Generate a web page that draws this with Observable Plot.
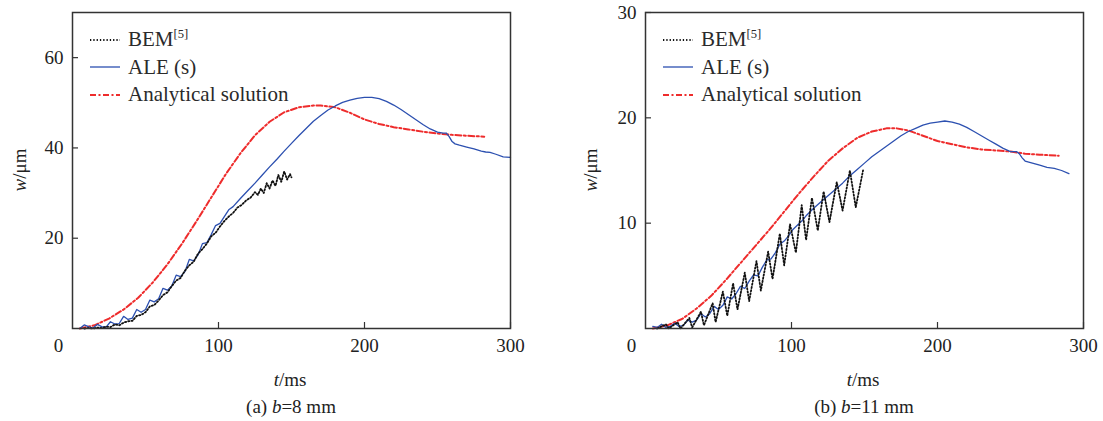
<!DOCTYPE html>
<html>
<head>
<meta charset="utf-8">
<script src="https://cdn.jsdelivr.net/npm/d3@7"></script>
<script src="https://cdn.jsdelivr.net/npm/@observablehq/plot@0.6"></script>
<style>
  body { margin: 0; background: #fff; font-family: "Liberation Serif", "Times New Roman", serif; color: #222; }
  #wrap { position: relative; width: 1103px; height: 421px; overflow: hidden; }
  .panel { position: absolute; top: 0; }
  .lbl { position: absolute; font-size: 19px; white-space: nowrap; transform: translate(-50%, -50%); }
  .ylbl { position: absolute; font-size: 19px; white-space: nowrap; transform: translate(-50%, -50%) rotate(-90deg); }
  .legend { position: absolute; font-size: 21px; line-height: 1; color: #2a2a2a; }
  .legend .row { display: flex; align-items: center; height: 27.5px; white-space: nowrap; }
  .legend svg { margin-right: 8px; }
  sup { font-size: 0.6em; vertical-align: 0.6em; line-height: 0; }
</style>
</head>
<body>
<div id="wrap"></div>
<script>
// ---- tick labels ----
const xTicks = [100, 200, 300];
const yTicks8 = [20, 40, 60];
const yTicks11 = [10, 20, 30];

// ---- b = 8 mm ----
const bem8T = [8, 11, 14, 17, 20, 23, 26, 29, 32, 35, 38, 41, 44, 47, 50, 53, 56, 59, 62, 65, 68, 71, 74, 77, 80, 83, 86, 89, 92, 95, 98, 101, 104, 107, 110, 113, 116, 119, 122, 125, 127, 129, 131, 133, 135, 137, 139, 141, 143, 145, 147, 149, 150];
const bem8W = [0, 0.1, 0.0, 0.2, 0.1, 0.4, 0.3, 0.9, 0.7, 1.3, 1.6, 1.7, 2.8, 3.0, 3.6, 4.9, 5.2, 6.2, 7.4, 8.0, 9.4, 10.6, 11.2, 12.8, 14.0, 14.8, 16.6, 17.6, 18.8, 20.4, 21.2, 22.6, 23.8, 24.8, 25.6, 26.8, 27.4, 28.4, 29.0, 30.2, 29.6, 31.0, 30.0, 32.2, 31.0, 32.8, 31.6, 34.0, 32.5, 34.8, 33.0, 34.2, 33.5];

const ale8T = [5, 8, 11, 14, 17, 20, 23, 26, 29, 32, 35, 38, 41, 44, 47, 50, 53, 56, 59, 62, 65, 68, 71, 74, 77, 80, 83, 86, 89, 92, 95, 98, 101, 104, 107, 110, 115, 120, 125, 130, 135, 140, 145, 150, 155, 160, 165, 170, 175, 180, 185, 190, 195, 200, 205, 210, 215, 220, 225, 230, 235, 240, 245, 250, 254, 256, 258, 260, 262, 265, 270, 275, 280, 283, 286, 290, 295, 300];
const ale8W = [0.0, 0.8, 0.4, 0.1, 0.9, 0.4, 0.3, 1.5, 1.0, 1.1, 2.7, 2.0, 2.3, 4.2, 3.6, 4.2, 6.3, 5.9, 6.6, 8.9, 8.5, 9.4, 11.8, 11.5, 12.6, 15.3, 15.0, 16.3, 18.8, 19.0, 20.8, 22.8, 23.3, 24.8, 26.3, 27.0, 28.8, 30.5, 32.2, 34.0, 35.8, 37.5, 39.3, 41.0, 42.7, 44.3, 45.9, 47.2, 48.4, 49.3, 50.1, 50.6, 51.0, 51.2, 51.2, 50.9, 50.3, 49.5, 48.5, 47.4, 46.3, 45.2, 44.2, 43.5, 43.3, 43.3, 42.5, 41.4, 40.9, 40.6, 40.2, 39.8, 39.3, 39.1, 39.0, 38.6, 38.0, 37.9];

const ana8T = [5, 15, 25, 35, 45, 55, 65, 75, 85, 95, 105, 115, 125, 135, 145, 155, 165, 170, 180, 190, 200, 210, 220, 230, 240, 250, 260, 270, 282];
const ana8W = [0, 0.7, 2.2, 4.2, 6.8, 10.2, 14.2, 18.8, 23.8, 29.0, 34.2, 38.8, 42.8, 45.8, 47.9, 49.0, 49.4, 49.4, 49.0, 47.8, 46.3, 45.3, 44.6, 44.1, 43.6, 43.2, 42.9, 42.7, 42.5];

// ---- b = 11 mm ----
const bem11T = [8, 14, 16, 22, 24, 30, 32, 38, 40, 46, 48, 53, 56, 60, 63, 68, 71, 76, 79, 84, 87, 92, 95, 99, 103, 107, 110, 114, 118, 122, 126, 131, 135, 140, 144, 149];
const bem11W = [0.0, 0.4, 0.0, 0.6, 0.0, 1.0, 0.1, 1.6, 0.3, 2.4, 0.6, 3.5, 1.2, 4.3, 1.8, 5.3, 2.6, 6.4, 3.6, 7.3, 4.7, 9.0, 6.0, 9.9, 7.2, 11.7, 8.4, 12.4, 9.3, 13.0, 10.1, 13.9, 11.2, 15.0, 11.5, 15.0];

const ale11T = [5, 8, 11, 14, 17, 20, 23, 26, 29, 32, 35, 38, 41, 44, 47, 50, 53, 56, 59, 62, 65, 68, 71, 74, 77, 80, 83, 86, 89, 92, 95, 98, 101, 104, 107, 110, 115, 120, 125, 130, 135, 140, 145, 150, 155, 160, 165, 170, 175, 180, 185, 190, 195, 200, 205, 210, 215, 220, 225, 230, 235, 240, 245, 250, 254, 256, 258, 260, 265, 270, 275, 280, 285, 290];
const ale11W = [0.2, 0.1, 0.4, 0.1, 0.2, 0.5, 0.2, 0.3, 0.8, 0.6, 0.8, 1.4, 1.1, 1.4, 2.1, 1.8, 2.2, 3.0, 2.8, 3.3, 4.0, 3.8, 4.5, 5.1, 5.0, 5.8, 6.5, 6.6, 7.2, 8.0, 8.3, 8.8, 9.4, 9.8, 10.2, 10.7, 11.4, 12.0, 12.6, 13.2, 13.8, 14.5, 15.1, 15.7, 16.3, 16.8, 17.3, 17.8, 18.3, 18.7, 19.0, 19.3, 19.5, 19.6, 19.7, 19.6, 19.4, 19.1, 18.7, 18.3, 17.9, 17.5, 17.1, 16.8, 16.8, 16.6, 16.2, 15.9, 15.7, 15.5, 15.3, 15.2, 15.0, 14.7];

const ana11T = [5, 15, 25, 35, 45, 55, 65, 75, 85, 95, 105, 115, 125, 135, 145, 155, 165, 172, 180, 190, 200, 210, 220, 230, 240, 250, 260, 270, 283];
const ana11W = [0, 0.3, 0.9, 1.9, 3.1, 4.6, 6.2, 7.8, 9.4, 11.1, 12.8, 14.4, 15.9, 17.1, 18.1, 18.7, 19.0, 19.0, 18.8, 18.3, 17.8, 17.5, 17.2, 17.0, 16.9, 16.8, 16.6, 16.5, 16.4];

const series = [
  {name: "BEM", sup: "[5]", stroke: "#111", width: 1.8, dash: "1.3,2"},
  {name: "ALE (s)", sup: "", stroke: "#2c50b0", width: 1.3, dash: null},
  {name: "Analytical solution", sup: "", stroke: "#ee2c2c", width: 2, dash: "6,2.5,2,2.5"}
];

const zip = (T, W) => T.map((t, i) => ({t, w: W[i]}));

const plotTop = 12, plotBottom = 93, tickLen = 6;

function panel({width, marginLeft, marginRight, yMax, yTicks, bem, ale, ana}) {
  const innerW = width - marginLeft - marginRight;
  const innerH = 421 - plotTop - plotBottom;
  return Plot.plot({
    width, height: 421,
    marginTop: plotTop, marginBottom: plotBottom, marginLeft, marginRight,
    style: {fontFamily: "Liberation Serif, Times New Roman, serif", fontSize: "19px", color: "#222", background: "transparent", overflow: "visible"},
    x: {domain: [0, 300], label: null},
    y: {domain: [0, yMax], label: null},
    marks: [
      Plot.line(ana, {x: "t", y: "w", stroke: series[2].stroke, strokeWidth: series[2].width, strokeDasharray: series[2].dash}),
      Plot.line(ale, {x: "t", y: "w", stroke: series[1].stroke, strokeWidth: series[1].width}),
      Plot.line(bem, {x: "t", y: "w", stroke: series[0].stroke, strokeWidth: series[0].width, strokeDasharray: series[0].dash}),
      // inward tick marks
      Plot.ruleX(xTicks, {x: d => d, insetTop: innerH - tickLen, stroke: "#333", strokeWidth: 1.2}),
      Plot.ruleY(yTicks, {y: d => d, insetRight: innerW - tickLen, stroke: "#333", strokeWidth: 1.2}),
      Plot.axisX(xTicks, {tickSize: 0, tickPadding: 10, label: null}),
      Plot.axisY(yTicks, {tickSize: 0, tickPadding: 9, label: null}),
      Plot.text([{t: 0, w: 0, s: "0"}], {x: "t", y: "w", text: "s", dx: -14, dy: 17, fill: "#222"}),
      Plot.frame({stroke: "#333", strokeWidth: 1.5})
    ]
  });
}

const wrap = document.getElementById("wrap");

function place(node, left) {
  node.classList.add("panel");
  node.style.left = left + "px";
  wrap.appendChild(node);
}

place(panel({width: 560, marginLeft: 72, marginRight: 50, yMax: 70, yTicks: yTicks8,
  bem: zip(bem8T, bem8W), ale: zip(ale8T, ale8W), ana: zip(ana8T, ana8W)}), 0);
place(panel({width: 543, marginLeft: 85, marginRight: 20, yMax: 30, yTicks: yTicks11,
  bem: zip(bem11T, bem11W), ale: zip(ale11T, ale11W), ana: zip(ana11T, ana11W)}), 560);

function label(html, x, y, cls) {
  const d = document.createElement("div");
  d.className = cls;
  d.style.left = x + "px";
  d.style.top = y + "px";
  d.innerHTML = html;
  wrap.appendChild(d);
}

function legend(x, y) {
  const box = document.createElement("div");
  box.className = "legend";
  box.style.left = x + "px";
  box.style.top = y + "px";
  for (const s of series) {
    const row = document.createElement("div");
    row.className = "row";
    row.innerHTML =
      `<svg width="30" height="6"><line x1="0" y1="3" x2="30" y2="3" stroke="${s.stroke}" stroke-width="${s.width}"` +
      (s.dash ? ` stroke-dasharray="${s.dash}"` : "") + `/></svg>` +
      `<span>${s.name}${s.sup ? `<sup>${s.sup}</sup>` : ""}</span>`;
    box.appendChild(row);
  }
  wrap.appendChild(box);
}

legend(90, 26);
legend(663, 26);

label("<i>w</i>/μm", 20, 170, "ylbl");
label("<i>w</i>/μm", 591, 170, "ylbl");
label("<i>t</i>/ms", 290, 380, "lbl");
label("<i>t</i>/ms", 863, 380, "lbl");
label("(a) <i>b</i>=8 mm", 291, 407, "lbl");
label("(b) <i>b</i>=11 mm", 864, 407, "lbl");
</script>
</body>
</html>
